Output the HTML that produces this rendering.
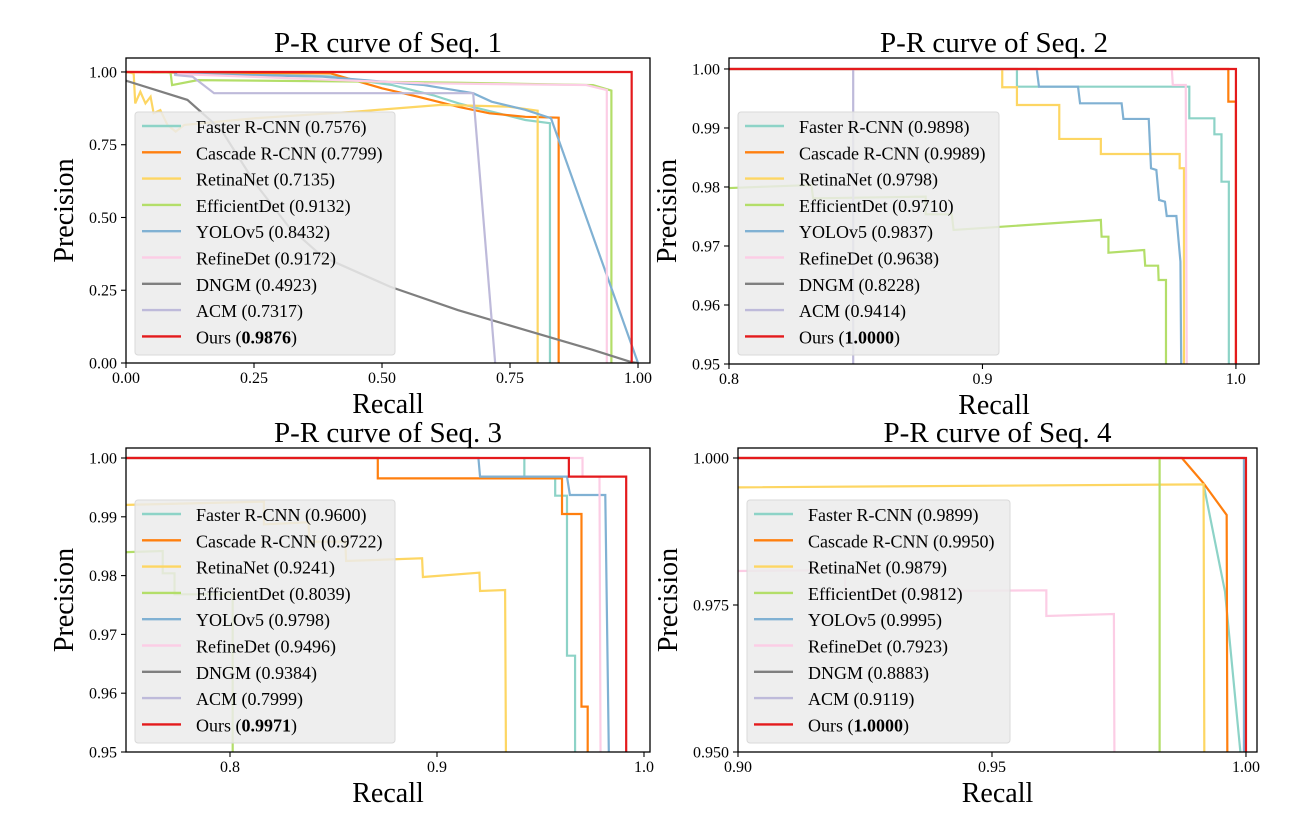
<!DOCTYPE html>
<html><head><meta charset="utf-8"><style>
html,body{margin:0;padding:0;background:#fff;}
svg{display:block;font-family:"Liberation Serif",serif;}
</style></head><body>
<svg id="fig" width="1313" height="829" viewBox="0 0 1313 829" xmlns="http://www.w3.org/2000/svg"></svg>
<script>
// ---------- data (recall, precision pairs) ----------
const seriesNames = ["Faster R-CNN","Cascade R-CNN","RetinaNet","EfficientDet","YOLOv5","RefineDet","DNGM","ACM","Ours"];
const seriesColors = ["#8dd3c7","#ff7f0e","#fdd663","#b3de69","#80b1d3","#fccde5","#7f7f7f","#bebada","#e41a1c"];

const seq1AP = ["0.7576","0.7799","0.7135","0.9132","0.8432","0.9172","0.4923","0.7317","0.9876"];
const seq2AP = ["0.9898","0.9989","0.9798","0.9710","0.9837","0.9638","0.8228","0.9414","1.0000"];
const seq3AP = ["0.9600","0.9722","0.9241","0.8039","0.9798","0.9496","0.9384","0.7999","0.9971"];
const seq4AP = ["0.9899","0.9950","0.9879","0.9812","0.9995","0.7923","0.8883","0.9119","1.0000"];

const seq1Faster = [[0.05,1.0],[0.40,0.985],[0.52,0.955],[0.60,0.92],[0.65,0.892],[0.70,0.87],[0.78,0.835],[0.828,0.824],[0.828,0]];
const seq1Cascade = [[0.0,1.0],[0.40,0.995],[0.50,0.944],[0.57,0.915],[0.65,0.88],[0.71,0.858],[0.78,0.846],[0.845,0.843],[0.845,0]];
const seq1Retina = [[0.0,1.0],[0.015,0.995],[0.018,0.892],[0.028,0.932],[0.038,0.892],[0.048,0.915],[0.054,0.858],[0.067,0.869],[0.081,0.818],[0.097,0.795],[0.114,0.818],[0.252,0.841],[0.45,0.864],[0.615,0.887],[0.747,0.881],[0.804,0.867],[0.804,0]];
const seq1Efficient = [[0.05,1.0],[0.087,0.998],[0.090,0.955],[0.140,0.972],[0.45,0.967],[0.648,0.963],[0.912,0.955],[0.948,0.936],[0.948,0]];
const seq1Yolo = [[0.094,0.995],[0.384,0.984],[0.582,0.955],[0.678,0.927],[0.714,0.898],[0.78,0.87],[0.83,0.841],[1.0,0.0]];
const seq1Refine = [[0.10,0.993],[0.582,0.961],[0.899,0.955],[0.939,0.938],[0.939,0]];
const seq1Dngm = [[0.0,0.970],[0.12,0.904],[0.186,0.801],[0.252,0.618],[0.318,0.468],[0.384,0.365],[0.516,0.262],[0.648,0.182],[0.78,0.113],[0.912,0.045],[0.985,0.004],[1.0,0.0]];
const seq1Acm = [[0.094,0.99],[0.13,0.984],[0.172,0.927],[0.678,0.927],[0.721,0.0]];
const seq1Ours = [[0.0,1.0],[0.9876,1.0],[0.9876,0.0]];

const seq2Faster = [[0.80,1.0],[0.9136,1.0],[0.9136,0.9970],[0.9816,0.9970],[0.9816,0.99164],[0.9915,0.99164],[0.9915,0.98893],[0.9943,0.98893],[0.9943,0.9809],[0.9972,0.9809],[0.9972,0.95]];
const seq2Cascade = [[0.80,1.0],[0.997,1.0],[0.997,0.99446],[1.0,0.99446],[1.0,0.95]];
const seq2Retina = [[0.80,1.0],[0.9078,1.0],[0.9078,0.9969],[0.9136,0.9969],[0.9136,0.9939],[0.9303,0.9939],[0.9303,0.98814],[0.9467,0.98814],[0.9467,0.98559],[0.9778,0.98559],[0.9778,0.98317],[0.9795,0.98317],[0.9795,0.95]];
const seq2Efficient = [[0.7976,0.97978],[0.8325,0.98034],[0.8332,0.97808],[0.8776,0.97836],[0.8776,0.97537],[0.8879,0.97537],[0.8886,0.97271],[0.9467,0.97441],[0.947,0.97158],[0.9497,0.97158],[0.9497,0.96886],[0.9638,0.96932],[0.9642,0.96666],[0.9693,0.96666],[0.9695,0.96424],[0.9724,0.96424],[0.9724,0.95]];
const seq2Yolo = [[0.80,1.0],[0.9214,1.0],[0.9223,0.9970],[0.9377,0.9970],[0.9385,0.99418],[0.9549,0.99418],[0.9556,0.99153],[0.9656,0.99153],[0.9665,0.98317],[0.9686,0.98288],[0.9697,0.9778],[0.9720,0.97751],[0.9727,0.97508],[0.9765,0.97508],[0.9781,0.96734],[0.9784,0.95]];
const seq2Refine = [[0.80,1.0],[0.9747,1.0],[0.9751,0.99729],[0.9802,0.99729],[0.9806,0.95]];
const seq2Dngm = [];
const seq2Acm = [[0.849,1.0],[0.849,0.95]];
const seq2Ours = [[0.80,1.0],[1.0,1.0],[1.0,0.95]];

const seq3Faster = [[0.9422,1.0],[0.9422,0.99683],[0.9571,0.99683],[0.9571,0.99359],[0.9628,0.99359],[0.9628,0.96638],[0.9667,0.96638],[0.9667,0.95]];
const seq3Cascade = [[0.75,1.0],[0.8714,1.0],[0.8714,0.99654],[0.9604,0.99654],[0.9604,0.99048],[0.9698,0.99048],[0.9698,0.95771],[0.9728,0.95771],[0.9728,0.95]];
const seq3Retina = [[0.748,0.99201],[0.8164,0.99257],[0.8164,0.98872],[0.8379,0.98906],[0.8384,0.98577],[0.8557,0.98577],[0.8561,0.98248],[0.8928,0.98294],[0.8932,0.97976],[0.9205,0.9805],[0.9208,0.97738],[0.9329,0.97755],[0.9333,0.95]];
const seq3Efficient = [[0.748,0.98396],[0.7675,0.98418],[0.7675,0.98039],[0.7732,0.98039],[0.7732,0.97682],[0.8013,0.97682],[0.8013,0.95]];
const seq3Yolo = [[0.75,1.0],[0.9200,1.0],[0.9208,0.99683],[0.9628,0.99683],[0.9642,0.99371],[0.9813,0.99371],[0.9830,0.95]];
const seq3Refine = [[0.9637,1.0],[0.9703,1.0],[0.9703,0.99683],[0.9785,0.99683],[0.9790,0.95]];
const seq3Dngm = [];
const seq3Acm = [];
const seq3Ours = [[0.75,1.0],[0.9637,1.0],[0.9637,0.99683],[0.9914,0.99683],[0.9914,0.95]];

const seq4Faster = [[0.99165,0.99552],[0.99587,0.97726],[0.9989,0.95]];
const seq4Cascade = [[0.90,1.0],[0.98738,1.0],[0.99165,0.9957],[0.9962,0.99031],[0.99633,0.95]];
const seq4Retina = [[0.90,0.99501],[0.99165,0.99552],[0.9918,0.95]];
const seq4Efficient = [[0.983,1.0],[0.983,0.95]];
const seq4Yolo = [[0.90,1.0],[0.9996,1.0],[0.9996,0.95]];
const seq4Refine = [[0.90,0.98078],[0.9211,0.98095],[0.9211,0.97726],[0.9607,0.9775],[0.9607,0.97313],[0.974,0.97347],[0.9741,0.95]];
const seq4Dngm = [];
const seq4Acm = [];
const seq4Ours = [[0.90,1.0],[1.0,1.0],[1.0,0.95]];

const seq1XTicks = ["0.00","0.25","0.50","0.75","1.00"];
const seq1YTicks = ["0.00","0.25","0.50","0.75","1.00"];
const seq2XTicks = ["0.8","0.9","1.0"];
const seq2YTicks = ["0.95","0.96","0.97","0.98","0.99","1.00"];
const seq3XTicks = ["0.8","0.9","1.0"];
const seq3YTicks = ["0.95","0.96","0.97","0.98","0.99","1.00"];
const seq4XTicks = ["0.90","0.95","1.00"];
const seq4YTicks = ["0.950","0.975","1.000"];

// ---------- layout ----------
const NS = "http://www.w3.org/2000/svg";
const fig = document.getElementById("fig");
function mk(tag, attrs, parent){
  const e = document.createElementNS(NS, tag);
  for (const k in attrs) e.setAttribute(k, attrs[k]);
  (parent||fig).appendChild(e);
  return e;
}
const panels = [
  {id:1, L:126, R:650, T:58, B:363, xd:[0,1.0234], yd:[0,1.048], xt:seq1XTicks, yt:seq1YTicks,
   series:[seq1Faster,seq1Cascade,seq1Retina,seq1Efficient,seq1Yolo,seq1Refine,seq1Dngm,seq1Acm,seq1Ours], ap:seq1AP,
   leg:{x:135,y:112,w:260,h:243}},
  {id:2, L:729, R:1259, T:58, B:364, xd:[0.8,1.0091], yd:[0.95,1.00186], xt:seq2XTicks, yt:seq2YTicks,
   series:[seq2Faster,seq2Cascade,seq2Retina,seq2Efficient,seq2Yolo,seq2Refine,seq2Dngm,seq2Acm,seq2Ours], ap:seq2AP,
   leg:{x:738,y:112,w:261,h:243}},
  {id:3, L:126, R:650, T:448, B:752, xd:[0.74976,1.0029], yd:[0.95,1.0017], xt:seq3XTicks, yt:seq3YTicks,
   series:[seq3Faster,seq3Cascade,seq3Retina,seq3Efficient,seq3Yolo,seq3Refine,seq3Dngm,seq3Acm,seq3Ours], ap:seq3AP,
   leg:{x:135,y:500,w:260,h:243}},
  {id:4, L:738, R:1257, T:448, B:752, xd:[0.9,1.00217], yd:[0.95,1.0017], xt:seq4XTicks, yt:seq4YTicks,
   series:[seq4Faster,seq4Cascade,seq4Retina,seq4Efficient,seq4Yolo,seq4Refine,seq4Dngm,seq4Acm,seq4Ours], ap:seq4AP,
   leg:{x:747,y:500,w:263,h:243}}
];

panels.forEach(function(pn){
  const g = mk("g", {});
  
  
  const sx = v => pn.L + (v - pn.xd[0]) / (pn.xd[1] - pn.xd[0]) * (pn.R - pn.L);
  const sy = v => pn.B - (v - pn.yd[0]) / (pn.yd[1] - pn.yd[0]) * (pn.B - pn.T);
  const cid = "clip" + pn.id;
  const cp = mk("clipPath", {id:cid}, g);
  mk("rect", {x:pn.L, y:pn.T, width:pn.R-pn.L, height:pn.B-pn.T}, cp);

  const cg = mk("g", {"clip-path":"url(#"+cid+")"}, g);
  pn.series.forEach(function(pts, i){
    if (!pts.length) return;
    const d = pts.map((p,j)=>(j?"L":"M")+sx(p[0]).toFixed(2)+","+sy(p[1]).toFixed(2)).join(" ");
    const path = mk("path", {d:d, fill:"none", stroke:seriesColors[i], "stroke-width":2.2, "stroke-linejoin":"miter"}, cg);
    
    
  });

  const fr = mk("rect", {x:pn.L, y:pn.T, width:pn.R-pn.L, height:pn.B-pn.T, fill:"none", stroke:"#000", "stroke-width":1.3}, g);
  
  

  pn.xt.forEach(function(t){
    const v = parseFloat(t), x = sx(v);
    mk("line", {x1:x, x2:x, y1:pn.B, y2:pn.B+5, stroke:"#000", "stroke-width":1.1}, g);
    const tx = mk("text", {x:x, y:pn.B+20, "text-anchor":"middle", "font-size":16, fill:"#000"}, g);
    tx.textContent = t;
    
    
  });
  pn.yt.forEach(function(t){
    const v = parseFloat(t), y = sy(v);
    mk("line", {x1:pn.L-5, x2:pn.L, y1:y, y2:y, stroke:"#000", "stroke-width":1.1}, g);
    const ty = mk("text", {x:pn.L-9, y:y+5.5, "text-anchor":"end", "font-size":16, fill:"#000"}, g);
    ty.textContent = t;
    
    
  });

  const cx = (pn.L + pn.R) / 2;
  const ti = mk("text", {x:cx, y:pn.T-6, "text-anchor":"middle", "font-size":29, fill:"#000"}, g);
  ti.textContent = "P-R curve of Seq. " + pn.id;
  
  
  const xl = mk("text", {x:cx, y:pn.B+50, "text-anchor":"middle", "font-size":28, fill:"#000"}, g);
  xl.textContent = "Recall";
  
  
  const ylx = pn.L - (pn.id===4 ? 61 : 53), ylyc = (pn.T + pn.B) / 2;
  const yl = mk("text", {x:ylx, y:ylyc, "text-anchor":"middle", "font-size":28, fill:"#000", transform:"rotate(-90 "+ylx+" "+ylyc+")"}, g);
  yl.textContent = "Precision";
  
  

  const lg = mk("g", {}, g);
  
  
  mk("rect", {x:pn.leg.x, y:pn.leg.y, width:pn.leg.w, height:pn.leg.h, rx:3, fill:"#ebebeb", "fill-opacity":0.85, stroke:"#d9d9d9", "stroke-width":1}, lg);
  seriesNames.forEach(function(nm, i){
    const ry = pn.leg.y + 14 + i * 26.3;
    const ln = mk("line", {x1:pn.leg.x+7, x2:pn.leg.x+46, y1:ry, y2:ry, stroke:seriesColors[i], "stroke-width":2.4}, lg);
    
    
    const tx = mk("text", {x:pn.leg.x+61, y:ry+7, "font-size":18, fill:"#000"}, lg);
    
    
    if (i === 8) {
      tx.appendChild(document.createTextNode(nm + " ("));
      const b = mk("tspan", {"font-weight":"bold"}, tx);
      b.textContent = pn.ap[i];
      tx.appendChild(document.createTextNode(")"));
    } else {
      tx.textContent = nm + " (" + pn.ap[i] + ")";
    }
  });
});
</script>
</body></html>
